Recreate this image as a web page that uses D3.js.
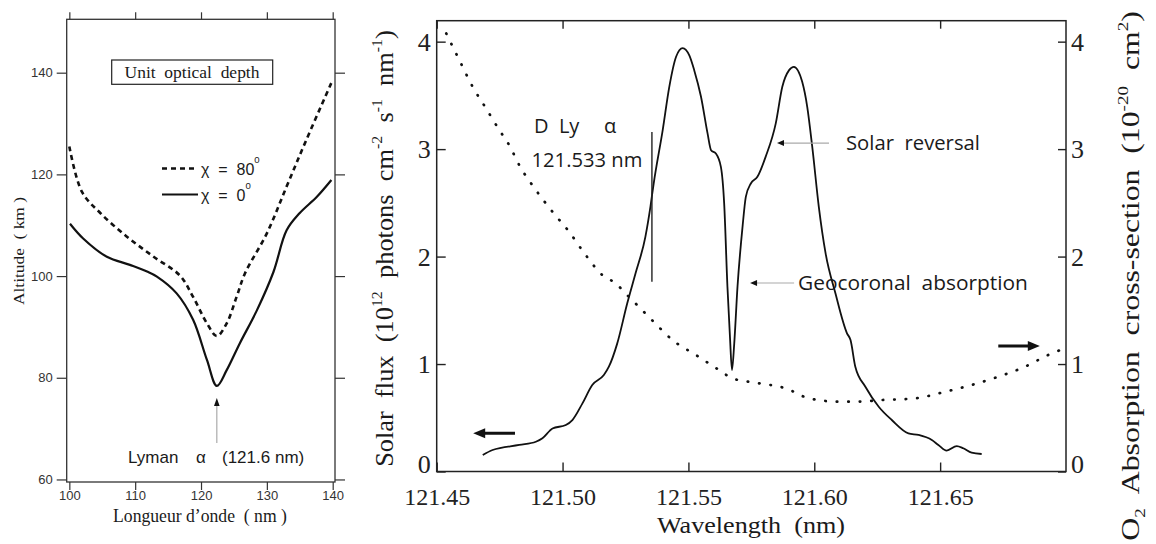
<!DOCTYPE html>
<html><head><meta charset="utf-8">
<script src="https://cdn.jsdelivr.net/npm/d3@7"></script>
<style>body{margin:0;background:#fff}svg{display:block}</style>
</head><body>
<svg id="c" width="1156" height="544"></svg>
<script>
// ---------- DATA ----------
// Left panel: altitude of unit optical depth vs wavelength
const altTicks = [60, 80, 100, 120, 140];
const lonTicks = [100, 110, 120, 130, 140];
const chi80Wl  = [100, 101.9, 104.7, 108.7, 112.8, 116.8, 118.8, 120.9, 122.4, 123.9, 125.4, 126.7, 130, 133, 136, 139.8];
const chi80Alt = [125.5, 116.6, 112.4, 107.8, 103.8, 100.1, 95.9, 90.7, 88.2, 90.7, 95.9, 100.6, 108.4, 117.6, 126.8, 138];
const chi0Wl   = [100.1, 102.1, 105.7, 109.2, 111.8, 113.3, 116.3, 118.8, 120.9, 122.4, 123.9, 125.9, 128.5, 131, 133, 135, 137.6, 139.8];
const chi0Alt  = [110.3, 107.4, 103.8, 102.2, 100.9, 99.9, 96.6, 91.4, 83.5, 78.4, 81.5, 86.8, 93.3, 100.8, 109, 112.4, 115.6, 118.9];
const lymanWl = 122.4;

// Right panel: solar Lyman-alpha profile and O2 cross-section
const waveTicks = [121.45, 121.50, 121.55, 121.60, 121.65];
const fluxTicks = [0, 1, 2, 3, 4];
const fluxWl = [121.4683,121.4722,121.4828,121.4894,121.4920,121.4960,121.5013,121.5039,121.5079,121.5118,121.5164,121.5184,121.5217,121.5257,121.5290,121.5329,121.5349,121.5362,121.5398,121.5424,121.5451,121.5477,121.5504,121.5523,121.5550,121.5576,121.5590,121.5609,121.5629,121.5642,121.5655,121.5665,121.5673,121.5682,121.5695,121.5715,121.5728,121.5748,121.5774,121.5807,121.5847,121.5873,121.5900,121.5919,121.5952,121.5972,121.5992,121.6018,121.6045,121.6084,121.6130,121.6144,121.6163,121.6203,121.6256,121.6308,121.6374,121.6414,121.6467,121.6493,121.6526,121.6566,121.6592,121.6625,121.6665];
const flux   = [0.153,0.20,0.247,0.277,0.309,0.40,0.433,0.479,0.634,0.805,0.898,0.975,1.19,1.565,1.844,2.184,2.463,2.68,3.18,3.58,3.86,3.94,3.87,3.735,3.487,3.146,2.99,2.96,2.835,2.495,1.72,1.254,0.944,1.19,1.72,2.277,2.556,2.68,2.742,2.93,3.24,3.58,3.735,3.766,3.626,3.394,3.02,2.463,2.03,1.658,1.286,1.223,0.975,0.789,0.603,0.479,0.355,0.34,0.293,0.247,0.194,0.237,0.216,0.175,0.163];
const o2Wl = [121.4538,121.459,121.4643,121.4696,121.4749,121.4788,121.4828,121.4894,121.496,121.5026,121.5092,121.5158,121.5211,121.525,121.5316,121.5362,121.5437,121.553,121.5622,121.5675,121.5768,121.5886,121.5979,121.6097,121.6164,121.6269,121.6401,121.652,121.6625,121.6731,121.6837,121.6929,121.6995];
const o2Xs = [4.076,3.828,3.58,3.379,3.177,3.037,2.851,2.619,2.417,2.231,2.014,1.828,1.751,1.658,1.502,1.393,1.223,1.084,0.944,0.867,0.826,0.774,0.681,0.65,0.65,0.665,0.681,0.742,0.805,0.882,0.975,1.084,1.146];
const dLyaWl = 121.5355, dLyaTop = 3.16, dLyaBottom = 1.766;
const solarRevTip = [121.5852, 3.056];
const geoTip = [121.5745, 1.754];
const leftArrow  = {from: [121.4811, 0.355], to: [121.4645, 0.355]};
const rightArrow = {from: [121.6731, 1.167], to: [121.6896, 1.167]};

// ---------- HELPERS ----------
const svg = d3.select("#c");
svg.append("rect").attr("width", 1156).attr("height", 544).attr("fill", "#fff");
const SERIF = "'Liberation Serif','Times New Roman',serif";
const SANS = "'Liberation Sans',Arial,sans-serif";
const OSANS = "'Open Sans','Noto Sans',sans-serif";

function richText(parent, parts, o) {
  const g = parent.append("g").attr("transform", `translate(${o.x},${o.y})` + (o.rotate ? ` rotate(${o.rotate})` : ""));
  const t = g.append("text").attr("text-anchor", o.anchor || "start")
    .attr("font-family", o.font).attr("font-size", o.size).attr("fill", o.fill || "#1a1a1a")
    .attr("xml:space", "preserve");
  let shift = 0;
  const supS = o.supShift || 0.42;
  parts.forEach(p => {
    const [s, type] = Array.isArray(p) ? p : [p, "n"];
    const target = type === "sup" ? -supS * o.size : type === "sub" ? 0.22 * o.size : 0;
    t.append("tspan").attr("dy", target - shift).attr("font-size", type === "n" ? o.size : o.size * 0.6).text(s);
    shift = target;
  });
  if (o.len) {
    const w = t.node().getComputedTextLength();
    if (w > 0) t.attr("transform", `scale(${o.len / w},1)`);
  }
  return t;
}
function styleAxis(g, color, width) {
  g.select(".domain").remove();
  g.selectAll(".tick line").attr("stroke", color).attr("stroke-width", width);
}

// ---------- LEFT PANEL ----------
const xL = d3.scaleLinear().domain([99.6, 140.35]).range([66.7, 335]);
const yL = d3.scaleLinear().domain([59.5, 150.5]).range([482, 19.3]);
const gL = svg.append("g");

const axL = gL.append("g").attr("transform", `translate(${xL.range()[0]},0)`)
  .call(d3.axisLeft(yL).tickValues(altTicks).tickSize(10).tickPadding(4));
styleAxis(axL, "#333", 1.2);
axL.selectAll("text").attr("font-family", SANS).attr("font-size", 13).attr("fill", "#333");

const axLR = gL.append("g").attr("transform", `translate(${xL.range()[1]},0)`)
  .call(d3.axisRight(yL).tickValues(altTicks).tickSize(10).tickFormat(""));
styleAxis(axLR, "#333", 1.2);

const axLT = gL.append("g").attr("transform", `translate(0,${yL.range()[1]})`)
  .call(d3.axisTop(xL).tickValues(lonTicks).tickSize(7).tickFormat(""));
styleAxis(axLT, "#333", 1.2);

const axLB = gL.append("g").attr("transform", `translate(0,${yL.range()[0]})`)
  .call(d3.axisBottom(xL).tickValues(lonTicks).tickSize(8).tickPadding(1));
styleAxis(axLB, "#333", 1.2);
axLB.selectAll("text").attr("font-family", SANS).attr("font-size", 13).attr("fill", "#333");

gL.append("rect").attr("x", xL.range()[0]).attr("y", yL.range()[1])
  .attr("width", xL.range()[1] - xL.range()[0]).attr("height", yL.range()[0] - yL.range()[1])
  .attr("fill", "none").attr("stroke", "#333").attr("stroke-width", 1.3);

const lineL = d3.line().x(d => xL(d[0])).y(d => yL(d[1])).curve(d3.curveCatmullRom.alpha(0.5));
gL.append("path").attr("d", lineL(d3.zip(chi80Wl, chi80Alt)))
  .attr("fill", "none").attr("stroke", "#111").attr("stroke-width", 2.6).attr("stroke-dasharray", "5,4");
gL.append("path").attr("d", lineL(d3.zip(chi0Wl, chi0Alt)))
  .attr("fill", "none").attr("stroke", "#111").attr("stroke-width", 2.2);

// title box
gL.append("rect").attr("x", 111.7).attr("y", 60).attr("width", 161).attr("height", 24.3)
  .attr("fill", "#fff").attr("stroke", "#222").attr("stroke-width", 1.2);
richText(gL, ["Unit  optical  depth"], {x: 192, y: 78, font: SERIF, size: 17, anchor: "middle", len: 135});

// legend
gL.append("line").attr("x1", 162).attr("x2", 198).attr("y1", 168.5).attr("y2", 168.5)
  .attr("stroke", "#111").attr("stroke-width", 2.6).attr("stroke-dasharray", "5,4");
gL.append("line").attr("x1", 162).attr("x2", 198).attr("y1", 194.5).attr("y2", 194.5)
  .attr("stroke", "#111").attr("stroke-width", 2.2);
richText(gL, ["χ  =  80", ["0", "sup"]], {x: 201, y: 175, font: SANS, size: 16, supShift: 0.75});
richText(gL, ["χ  =  0", ["0", "sup"]], {x: 201, y: 201, font: SANS, size: 16, supShift: 0.75});

// Lyman alpha annotation
const lx = xL(lymanWl);
gL.append("line").attr("x1", lx).attr("x2", lx).attr("y1", 405).attr("y2", 443)
  .attr("stroke", "#aaa").attr("stroke-width", 1.2);
gL.append("path").attr("d", `M${lx},398 L${lx - 2.8},406 L${lx + 2.8},406 Z`).attr("fill", "#111");
richText(gL, ["Lyman"], {x: 128, y: 463, font: SANS, size: 17});
richText(gL, ["α"], {x: 196, y: 463, font: SANS, size: 17});
richText(gL, ["(121.6 nm)"], {x: 222, y: 463, font: SANS, size: 17});

// axis titles
richText(gL, ["Altitude  ( km )"], {x: 24, y: 251, rotate: -90, font: SERIF, size: 15, anchor: "middle", len: 108});
richText(gL, ["Longueur d’onde  ( nm )"], {x: 200, y: 522, font: SERIF, size: 18, anchor: "middle", len: 174});

// ---------- RIGHT PANEL ----------
const xR = d3.scaleLinear().domain([121.45, 121.70]).range([436.7, 1066]);
const yR = d3.scaleLinear().domain([0, 4.195]).range([471.5, 20.7]);
const yR2 = d3.scaleLinear().domain([0, 4.195]).range([471.5, 20.7]);
const gR = svg.append("g");

const axRL = gR.append("g").attr("transform", `translate(${xR.range()[0]},0)`)
  .call(d3.axisLeft(yR).tickValues(fluxTicks).tickSize(-9).tickPadding(6).tickFormat(d3.format("d")));
styleAxis(axRL, "#222", 1.4);
axRL.selectAll("text").attr("font-family", SERIF).attr("font-size", 26).attr("fill", "#222").attr("dy", "0.34em");
axRL.selectAll(".tick").filter(d => d === 0).select("text").attr("y", -8);

const axRR = gR.append("g").attr("transform", `translate(${xR.range()[1]},0)`)
  .call(d3.axisRight(yR2).tickValues(fluxTicks).tickSize(-8).tickPadding(5).tickFormat(d3.format("d")));
styleAxis(axRR, "#222", 1.4);
axRR.selectAll("text").attr("font-family", SERIF).attr("font-size", 26).attr("fill", "#222").attr("dy", "0.34em");
axRR.selectAll(".tick").filter(d => d === 0).select("text").attr("y", -8);

const axRT = gR.append("g").attr("transform", `translate(0,${yR.range()[1]})`)
  .call(d3.axisTop(xR).tickValues(waveTicks).tickSize(-8).tickFormat(""));
styleAxis(axRT, "#222", 1.4);

const axRB = gR.append("g").attr("transform", `translate(0,${yR.range()[0]})`)
  .call(d3.axisBottom(xR).tickValues(waveTicks).tickSize(-9).tickFormat(d3.format(".2f")));
styleAxis(axRB, "#222", 1.4);
axRB.selectAll("text").attr("font-family", SERIF).attr("font-size", 24).attr("fill", "#222")
  .attr("y", 33.5).attr("dy", 0);

gR.append("rect").attr("x", xR.range()[0]).attr("y", yR.range()[1])
  .attr("width", xR.range()[1] - xR.range()[0]).attr("height", yR.range()[0] - yR.range()[1])
  .attr("fill", "none").attr("stroke", "#222").attr("stroke-width", 1.5);

// O2 cross-section dotted
const lineO2 = d3.line().x(d => xR(d[0])).y(d => yR2(d[1])).curve(d3.curveMonotoneX);
gR.append("path").attr("d", lineO2(d3.zip(o2Wl, o2Xs)))
  .attr("fill", "none").attr("stroke", "#111").attr("stroke-width", 2.7)
  .attr("stroke-linecap", "round").attr("stroke-dasharray", "0.5,11");

// Solar flux solid
const lineF = d3.line().x(d => xR(d[0])).y(d => yR(d[1])).curve(d3.curveMonotoneX);
gR.append("path").attr("d", lineF(d3.zip(fluxWl, flux)))
  .attr("fill", "none").attr("stroke", "#111").attr("stroke-width", 1.8).attr("stroke-linejoin", "round");

// D Ly alpha marker
gR.append("line").attr("x1", xR(dLyaWl)).attr("x2", xR(dLyaWl)).attr("y1", yR(dLyaTop)).attr("y2", yR(dLyaBottom))
  .attr("stroke", "#222").attr("stroke-width", 1.4);
richText(gR, ["D  Ly"], {x: 534, y: 133, font: OSANS, size: 20});
richText(gR, ["α"], {x: 604, y: 133, font: OSANS, size: 20});
richText(gR, ["121.533 nm"], {x: 531.5, y: 167, font: OSANS, size: 20, len: 111});

// small annotation arrows
function noteArrow(tip, len) {
  const tx = xR(tip[0]), ty = yR(tip[1]);
  gR.append("line").attr("x1", tx + 6).attr("x2", tx + len).attr("y1", ty).attr("y2", ty)
    .attr("stroke", "#aaa").attr("stroke-width", 1.2);
  gR.append("path").attr("d", `M${tx},${ty} L${tx + 7},${ty - 3} L${tx + 7},${ty + 3} Z`).attr("fill", "#111");
}
noteArrow(solarRevTip, 52);
noteArrow(geoTip, 44);
richText(gR, ["Solar  reversal"], {x: 846, y: 150, font: OSANS, size: 20, len: 134});
richText(gR, ["Geocoronal  absorption"], {x: 798, y: 290, font: OSANS, size: 20, len: 230});

// big direction arrows
function bigArrow(a) {
  const x1 = xR(a.from[0]), y1 = yR(a.from[1]), x2 = xR(a.to[0]), y2 = yR(a.to[1]);
  const dir = Math.sign(x2 - x1);
  gR.append("line").attr("x1", x1).attr("x2", x2 - dir * 9).attr("y1", y1).attr("y2", y2)
    .attr("stroke", "#111").attr("stroke-width", 3);
  gR.append("path").attr("d", `M${x2},${y2} L${x2 - dir * 12},${y2 - 5} L${x2 - dir * 12},${y2 + 5} Z`).attr("fill", "#111");
}
bigArrow(leftArrow);
bigArrow(rightArrow);

// axis titles
richText(gR, ["Solar  flux  (10", ["12", "sup"], "  photons  cm", ["-2", "sup"], "  s", ["-1", "sup"], "  nm", ["-1", "sup"], ")"],
  {x: 393, y: 248.5, rotate: -90, font: SERIF, size: 26, anchor: "middle", len: 437});
richText(gR, ["O", ["2", "sub"], "  Absorption  cross-section  (10", ["-20", "sup"], "  cm", ["2", "sup"], ")"],
  {x: 1139, y: 276, rotate: -90, font: SERIF, size: 26, anchor: "middle", len: 530});
richText(gR, ["Wavelength  (nm)"], {x: 751, y: 533, font: SERIF, size: 24, anchor: "middle", len: 188});
</script>
</body></html>
